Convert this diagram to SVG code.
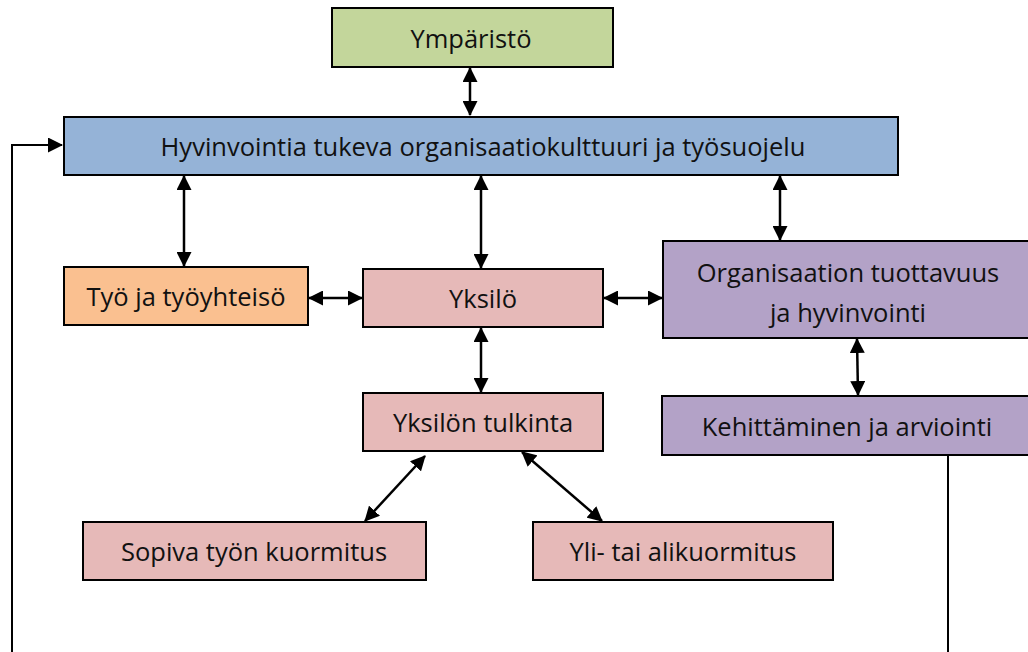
<svg xmlns="http://www.w3.org/2000/svg" width="1028" height="652" viewBox="0 0 1028 652">
<style>
.box{stroke:#000;stroke-width:2}
.t{font-family:"Open Sans","Liberation Sans",sans-serif;font-size:25.5px;fill:#111;text-anchor:middle;dominant-baseline:central}
.c{stroke:#000;stroke-width:2.5;fill:none}
</style>
<defs>
<marker id="ah" markerUnits="userSpaceOnUse" markerWidth="15" markerHeight="15" refX="14" refY="7.5" orient="auto-start-reverse" viewBox="0 0 15 15">
<path d="M0,0 L15,7.5 L0,15 z" fill="#000"/>
</marker>
</defs>
<rect width="1028" height="652" fill="#fff"/>
<g id="connectors">
<line class="c" x1="470" y1="68" x2="470" y2="115" marker-start="url(#ah)" marker-end="url(#ah)"/>
<line class="c" x1="184" y1="176" x2="184" y2="266" marker-start="url(#ah)" marker-end="url(#ah)"/>
<line class="c" x1="481" y1="176" x2="481" y2="268" marker-start="url(#ah)" marker-end="url(#ah)"/>
<line class="c" x1="780" y1="176" x2="780" y2="240" marker-start="url(#ah)" marker-end="url(#ah)"/>
<line class="c" x1="309" y1="298" x2="362" y2="298" marker-start="url(#ah)" marker-end="url(#ah)"/>
<line class="c" x1="604" y1="298" x2="662" y2="298" marker-start="url(#ah)" marker-end="url(#ah)"/>
<line class="c" x1="481" y1="328" x2="481" y2="392" marker-start="url(#ah)" marker-end="url(#ah)"/>
<line class="c" x1="857" y1="339" x2="858" y2="395" marker-start="url(#ah)" marker-end="url(#ah)"/>
<line class="c" x1="425" y1="456" x2="365" y2="521" marker-start="url(#ah)" marker-end="url(#ah)"/>
<line class="c" x1="522" y1="452" x2="602" y2="521" marker-start="url(#ah)" marker-end="url(#ah)"/>
<path class="c" d="M948,456 V662 H12 V145 H62" marker-end="url(#ah)" style="stroke-width:2"/>
</g>
<g id="ymparisto">
<rect class="box" x="332" y="8" width="281" height="59" fill="#C3D69B"/>
<text class="t" x="471" y="38">Ympäristö</text>
</g>
<g id="kulttuuri">
<rect class="box" x="64" y="117" width="834" height="58" fill="#95B3D7"/>
<text class="t" x="483" y="146">Hyvinvointia tukeva organisaatiokulttuuri ja työsuojelu</text>
</g>
<g id="tyo">
<rect class="box" x="64" y="267" width="244" height="58" fill="#FAC090"/>
<text class="t" x="186" y="296">Työ ja työyhteisö</text>
</g>
<g id="yksilo">
<rect class="box" x="363" y="269" width="240" height="58" fill="#E6B9B8"/>
<text class="t" x="483" y="298">Yksilö</text>
</g>
<g id="organisaatio">
<rect class="box" x="663" y="241" width="370" height="97" fill="#B3A2C7"/>
<text class="t" x="848" y="272">Organisaation tuottavuus</text>
<text class="t" x="848" y="312">ja hyvinvointi</text>
</g>
<g id="kehittaminen">
<rect class="box" x="662" y="396" width="370" height="59" fill="#B3A2C7"/>
<text class="t" x="847" y="426">Kehittäminen ja arviointi</text>
</g>
<g id="tulkinta">
<rect class="box" x="363" y="393" width="240" height="58" fill="#E6B9B8"/>
<text class="t" x="483" y="422">Yksilön tulkinta</text>
</g>
<g id="sopiva">
<rect class="box" x="83" y="522" width="343" height="58" fill="#E6B9B8"/>
<text class="t" x="254" y="551">Sopiva työn kuormitus</text>
</g>
<g id="yli">
<rect class="box" x="533" y="522" width="300" height="58" fill="#E6B9B8"/>
<text class="t" x="683" y="551">Yli- tai alikuormitus</text>
</g>
</svg>
